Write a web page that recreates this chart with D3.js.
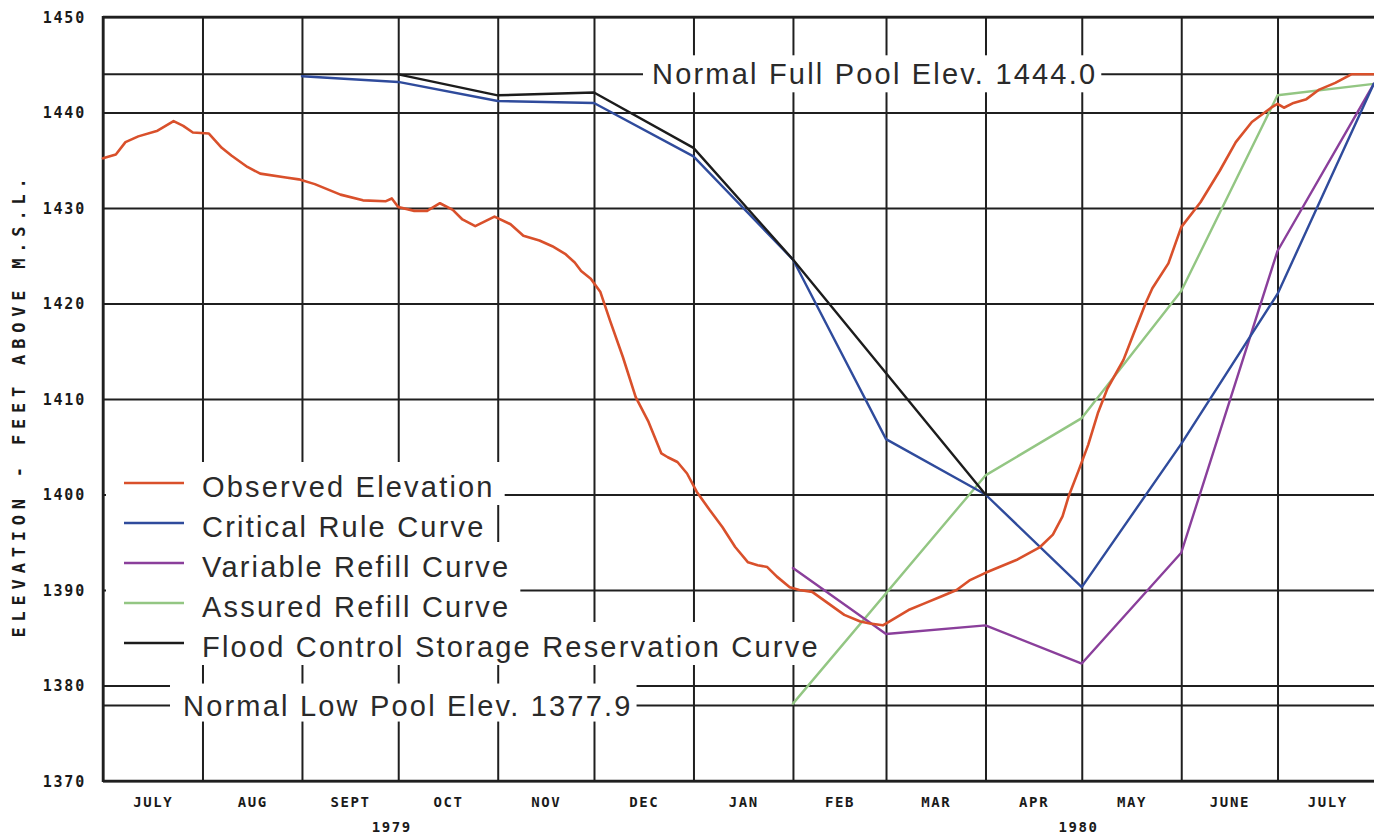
<!DOCTYPE html>
<html>
<head>
<meta charset="utf-8">
<script src="https://cdn.jsdelivr.net/npm/d3@7"></script>
<style>
  html, body { margin: 0; padding: 0; background: #ffffff; }
  svg { display: block; }
</style>
</head>
<body>
<svg id="chart" width="1374" height="835"></svg>
<script>
// ---- data -------------------------------------------------------------
const monthLabels = ["JULY", "AUG", "SEPT", "OCT", "NOV", "DEC", "JAN", "FEB", "MAR", "APR", "MAY", "JUNE", "JULY"];
const elevationTicks = [1370, 1380, 1390, 1400, 1410, 1420, 1430, 1440, 1450];
const yearLabels = [["1979", "1979-09-29"], ["1980", "1980-04-30"]];
const axisTitle = "ELEVATION - FEET ABOVE M.S.L.";

const fullPoolElev = 1444.0;
const lowPoolElev = 1377.9;
const fullPoolLabel = "Normal Full Pool Elev. 1444.0";
const lowPoolLabel = "Normal Low Pool Elev. 1377.9";

const legendLabels = [
  "Observed Elevation",
  "Critical Rule Curve",
  "Variable Refill Curve",
  "Assured Refill Curve",
  "Flood Control Storage Reservation Curve"
];

const observedElevation = [
  ["1979-07-01", 1435.2], ["1979-07-05", 1435.6], ["1979-07-08", 1436.9], ["1979-07-12", 1437.5],
  ["1979-07-18", 1438.1], ["1979-07-23", 1439.1], ["1979-07-26", 1438.6], ["1979-07-29", 1437.9],
  ["1979-08-03", 1437.8], ["1979-08-07", 1436.3], ["1979-08-10", 1435.5], ["1979-08-15", 1434.3],
  ["1979-08-19", 1433.6], ["1979-08-27", 1433.2], ["1979-08-31", 1433.0], ["1979-09-05", 1432.5],
  ["1979-09-13", 1431.4], ["1979-09-20", 1430.8], ["1979-09-27", 1430.7], ["1979-09-29", 1431.0],
  ["1979-10-01", 1430.1], ["1979-10-06", 1429.7], ["1979-10-10", 1429.7], ["1979-10-14", 1430.5],
  ["1979-10-18", 1429.8], ["1979-10-21", 1428.8], ["1979-10-25", 1428.1], ["1979-10-28", 1428.6],
  ["1979-10-31", 1429.1], ["1979-11-05", 1428.3], ["1979-11-09", 1427.1], ["1979-11-14", 1426.6],
  ["1979-11-18", 1426.0], ["1979-11-22", 1425.2], ["1979-11-25", 1424.3], ["1979-11-27", 1423.4],
  ["1979-11-30", 1422.6], ["1979-12-03", 1421.2], ["1979-12-06", 1418.2], ["1979-12-10", 1414.4],
  ["1979-12-14", 1410.2], ["1979-12-18", 1407.6], ["1979-12-22", 1404.3], ["1979-12-24", 1403.9],
  ["1979-12-27", 1403.4], ["1979-12-30", 1402.2], ["1980-01-02", 1400.3], ["1980-01-06", 1398.4],
  ["1980-01-10", 1396.6], ["1980-01-14", 1394.5], ["1980-01-18", 1392.9], ["1980-01-21", 1392.6],
  ["1980-01-24", 1392.4], ["1980-01-27", 1391.4], ["1980-01-31", 1390.3], ["1980-02-03", 1390.0],
  ["1980-02-07", 1389.8], ["1980-02-12", 1388.6], ["1980-02-17", 1387.4], ["1980-02-22", 1386.7],
  ["1980-02-25", 1386.5], ["1980-02-29", 1386.3], ["1980-03-02", 1386.7], ["1980-03-08", 1387.9],
  ["1980-03-13", 1388.6], ["1980-03-18", 1389.3], ["1980-03-23", 1390.0], ["1980-03-27", 1391.0],
  ["1980-04-01", 1391.8], ["1980-04-11", 1393.2], ["1980-04-18", 1394.5], ["1980-04-22", 1395.8],
  ["1980-04-25", 1397.7], ["1980-04-27", 1399.9], ["1980-04-30", 1402.5], ["1980-05-03", 1405.2],
  ["1980-05-06", 1408.5], ["1980-05-09", 1411.1], ["1980-05-14", 1414.1], ["1980-05-17", 1416.7],
  ["1980-05-21", 1420.1], ["1980-05-23", 1421.6], ["1980-05-28", 1424.2], ["1980-06-01", 1428.0],
  ["1980-06-07", 1430.6], ["1980-06-13", 1433.9], ["1980-06-18", 1436.9], ["1980-06-23", 1439.0],
  ["1980-06-29", 1440.5], ["1980-07-01", 1440.9], ["1980-07-03", 1440.5], ["1980-07-06", 1441.0],
  ["1980-07-10", 1441.4], ["1980-07-14", 1442.4], ["1980-07-19", 1443.1], ["1980-07-24", 1444.0],
  ["1980-07-31", 1444.0]
];

const criticalRuleCurve = [
  ["1979-09-01", 1443.8], ["1979-10-01", 1443.2], ["1979-11-01", 1441.2], ["1979-12-01", 1441.0],
  ["1980-01-01", 1435.4], ["1980-02-01", 1424.6], ["1980-03-01", 1405.8], ["1980-04-01", 1400.0],
  ["1980-05-01", 1390.3], ["1980-06-01", 1405.3], ["1980-07-01", 1421.0], ["1980-07-31", 1443.0]
];

const variableRefillCurve = [
  ["1980-02-01", 1392.3], ["1980-03-01", 1385.4], ["1980-04-01", 1386.3], ["1980-05-01", 1382.3],
  ["1980-06-01", 1393.9], ["1980-07-01", 1425.5], ["1980-07-31", 1443.0]
];

const assuredRefillCurve = [
  ["1980-02-01", 1378.1], ["1980-04-01", 1402.0], ["1980-05-01", 1408.0], ["1980-06-01", 1421.3],
  ["1980-07-01", 1441.8], ["1980-07-31", 1443.0]
];

const floodControlCurve = [
  ["1979-10-01", 1444.0], ["1979-11-01", 1441.8], ["1979-12-01", 1442.1], ["1980-01-01", 1436.3],
  ["1980-02-01", 1424.6], ["1980-04-01", 1400.0], ["1980-05-01", 1400.0]
];

// ---- styling ----------------------------------------------------------
const seriesColors = ["#d9502b", "#2f4b9c", "#8a3f9b", "#93c683", "#1c1c1c"];
const gridColor = "#1f1f1f";
const labelFont = "'Liberation Sans', Arial, sans-serif";
const plotterFont = "'DejaVu Sans Mono', monospace";

// ---- scales -----------------------------------------------------------
const parse = d3.utcParse("%Y-%m-%d");
const xStart = parse("1979-07-01"), xEnd = parse("1980-08-01");
const x = d3.scaleUtc().domain([xStart, xEnd]).range([103, 1377]);
const y = d3.scaleLinear().domain([1370, 1450]).range([781, 17]);
const [x0, x1] = x.range();
const [yBottom, yTop] = y.range();

const svg = d3.select("#chart");

// ---- grid -------------------------------------------------------------
const monthStarts = d3.utcMonth.range(xStart, d3.utcDay.offset(xEnd, 1));

const vGrid = svg.append("g")
  .attr("transform", `translate(0,${yBottom})`)
  .call(d3.axisBottom(x).tickValues(monthStarts).tickSize(-(yBottom - yTop)).tickFormat(""));
vGrid.select(".domain").remove();
vGrid.selectAll(".tick line").attr("stroke", gridColor).attr("stroke-width", 2);

const yAxis = svg.append("g")
  .attr("transform", `translate(${x0},0)`)
  .call(d3.axisLeft(y).tickValues(elevationTicks).tickSize(-(x1 - x0)).tickPadding(17).tickFormat(d3.format("d")));
yAxis.select(".domain").remove();
yAxis.selectAll(".tick line").attr("stroke", gridColor).attr("stroke-width", 2);
yAxis.selectAll(".tick text")
  .attr("font-family", plotterFont).attr("font-weight", "bold").attr("font-size", 15)
  .attr("letter-spacing", 1.8).attr("fill", "#1a1a1a").attr("dy", "0.36em");

// outer frame
svg.append("line").attr("x1", x0).attr("x2", x0).attr("y1", yTop - 1).attr("y2", yBottom + 1)
  .attr("stroke", gridColor).attr("stroke-width", 2.5);
svg.append("line").attr("x1", x0).attr("x2", x1).attr("y1", yTop).attr("y2", yTop)
  .attr("stroke", gridColor).attr("stroke-width", 2.5);
svg.append("line").attr("x1", x0).attr("x2", x1).attr("y1", yBottom).attr("y2", yBottom)
  .attr("stroke", gridColor).attr("stroke-width", 2.5);

// month names centred in each month
const monthMids = monthStarts.slice(0, -1).map((d, i) => new Date((+d + +monthStarts[i + 1]) / 2));
const mAxis = svg.append("g")
  .attr("transform", `translate(0,${yBottom})`)
  .call(d3.axisBottom(x).tickValues(monthMids).tickSize(0).tickFormat((d, i) => monthLabels[i]));
mAxis.select(".domain").remove();
mAxis.selectAll(".tick text")
  .attr("y", 26).attr("dy", null)
  .attr("font-family", plotterFont).attr("font-weight", "bold").attr("font-size", 14)
  .attr("letter-spacing", 1.6).attr("fill", "#1a1a1a");

svg.append("g").selectAll("text").data(yearLabels).join("text")
  .attr("x", d => x(parse(d[1]))).attr("y", 832)
  .attr("text-anchor", "middle")
  .attr("font-family", plotterFont).attr("font-weight", "bold").attr("font-size", 14)
  .attr("letter-spacing", 1.6).attr("fill", "#1a1a1a")
  .text(d => d[0]);

svg.append("text")
  .attr("transform", `translate(25,${(yTop + yBottom) / 2 + 6}) rotate(-90)`)
  .attr("text-anchor", "middle")
  .attr("font-family", plotterFont).attr("font-weight", "bold").attr("font-size", 17)
  .attr("letter-spacing", 5.8).attr("fill", "#1a1a1a")
  .text(axisTitle);

// ---- pool reference lines --------------------------------------------
const poolLines = svg.append("g");
[fullPoolElev, lowPoolElev].forEach(v => {
  poolLines.append("line").attr("x1", x0).attr("x2", x1).attr("y1", y(v)).attr("y2", y(v))
    .attr("stroke", gridColor).attr("stroke-width", 2);
});

// labelled text with a white knock-out behind it
function knockoutLabel(g, txt, tx, baseline, padL, padR, padT, padB) {
  const box = g.append("rect").attr("fill", "#ffffff");
  const t = g.append("text")
    .attr("x", tx).attr("y", baseline)
    .attr("font-family", labelFont).attr("font-size", 29).attr("letter-spacing", 2.2)
    .attr("fill", "#2a2a2a")
    .text(txt);
  const w = t.node().getComputedTextLength();
  box.attr("x", tx - padL).attr("y", baseline - padT)
    .attr("width", w + padL + padR).attr("height", padT + padB);
  return t;
}

const labels = svg.append("g");
knockoutLabel(labels, fullPoolLabel, 652, y(fullPoolElev) + 10, 9, 4, 29, 8);
knockoutLabel(labels, lowPoolLabel, 183, y(lowPoolElev) + 10, 13, 4, 32, 6);

// ---- legend -----------------------------------------------------------
const legend = svg.append("g");
legendLabels.forEach((lab, i) => {
  const base = 497 + i * 40;
  knockoutLabel(legend, lab, 202, base, 96, 10, 35, 8);
});

// ---- curves -----------------------------------------------------------
const line = d3.line().x(d => x(parse(d[0]))).y(d => y(d[1]));
const allSeries = [observedElevation, criticalRuleCurve, variableRefillCurve, assuredRefillCurve, floodControlCurve];
const drawOrder = [3, 2, 1, 4, 0];
const curves = svg.append("g");
drawOrder.forEach(i => {
  curves.append("path")
    .datum(allSeries[i])
    .attr("d", line)
    .attr("fill", "none")
    .attr("stroke", seriesColors[i])
    .attr("stroke-width", i === 0 ? 2.6 : 2.4)
    .attr("stroke-linejoin", "round")
    .attr("stroke-linecap", "round");
});

// legend keys
legendLabels.forEach((lab, i) => {
  const ly = 483 + i * 40;
  legend.append("line")
    .attr("x1", 124).attr("x2", 184).attr("y1", ly).attr("y2", ly)
    .attr("stroke", seriesColors[i]).attr("stroke-width", 2.6);
});
</script>
</body>
</html>
